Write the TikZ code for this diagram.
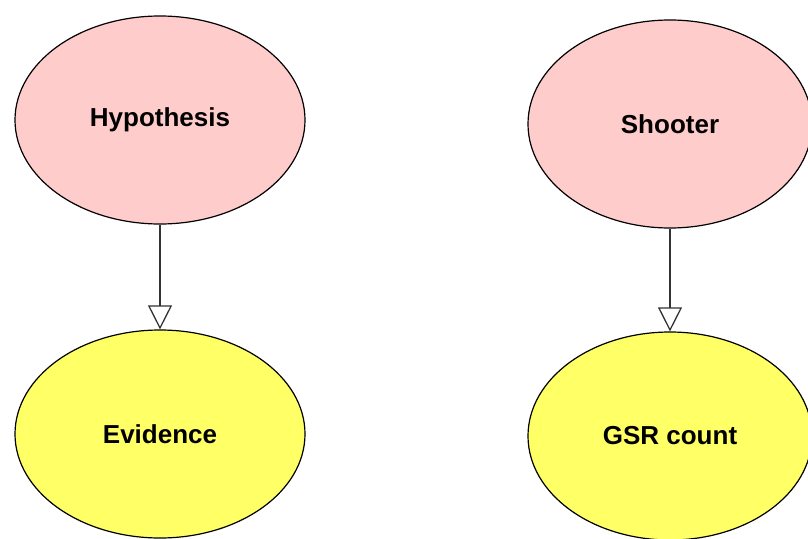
\documentclass[tikz,border=0pt]{standalone}
\usepackage{fontspec}
\setmainfont{Liberation Sans}
\usetikzlibrary{arrows.meta,shapes.geometric}
\definecolor{hypopink}{HTML}{FFCCCC}
\definecolor{evyellow}{HTML}{FFFF66}
\tikzset{
  node ellipse/.style={ellipse, draw=black, line width=1.2pt, minimum width=290pt, minimum height=208pt, inner sep=0pt, font=\bfseries\fontsize{26}{30}\selectfont},
  hyp/.style={node ellipse, fill=hypopink},
  evid/.style={node ellipse, fill=evyellow},
  link/.style={draw=black!80, line width=1.5pt, -{Triangle[open, length=24pt, width=24pt, line width=1.3pt, fill=white]}}
}
\begin{document}
\begin{tikzpicture}[x=1pt,y=-1pt]
\useasboundingbox[fill=white] (0,0) rectangle (808,538);
\node[hyp] (hyp) at (160,120) {Hypothesis};
\node[evid] (ev) at (160,434) {Evidence};
\node[hyp, minimum width=284pt] (sh) at (670,124) {Shooter};
\node[evid, minimum width=284pt] (gsr) at (670,436) {GSR count};
\draw[link] (hyp) -- (ev);
\draw[link] (sh) -- (gsr);
\end{tikzpicture}
\end{document}
